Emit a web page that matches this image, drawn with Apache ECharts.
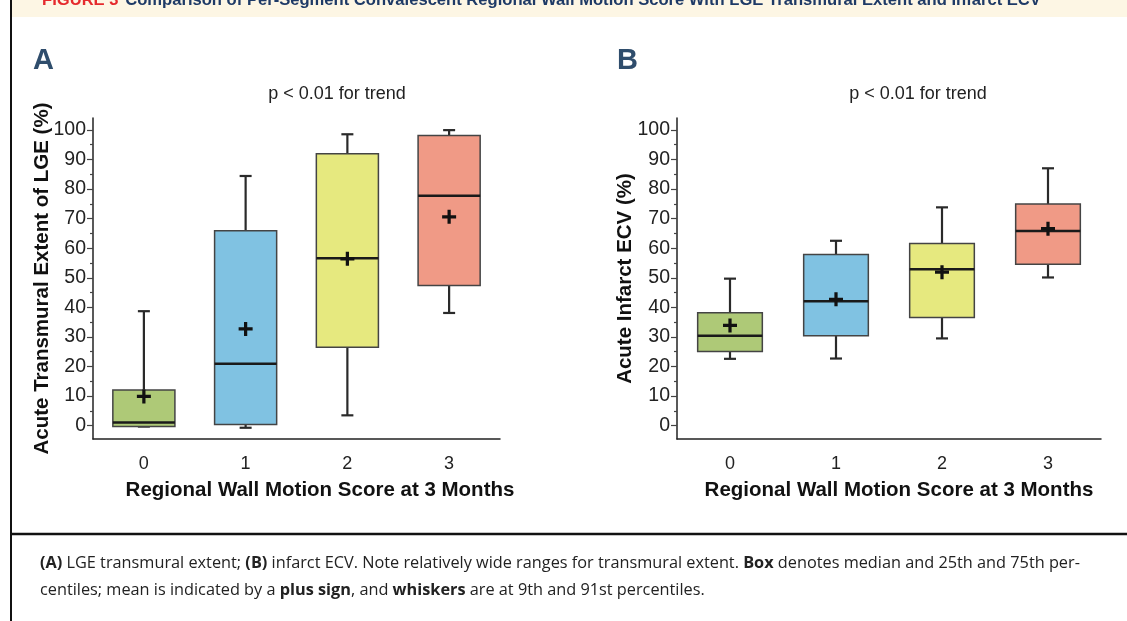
<!DOCTYPE html>
<html>
<head>
<meta charset="utf-8">
<script src="https://cdn.jsdelivr.net/npm/echarts@6/dist/echarts.min.js"></script>
<style>
  html, body { margin: 0; padding: 0; background: #fff; }
  #main { width: 1127px; height: 621px; }
</style>
</head>
<body>
<div id="main"></div>
<script>
// categories
const scores = ['0', '1', '2', '3']
const boxColors = ['#aec977', '#80c2e2', '#e6e97f', '#f09a86']

// A: LGE transmural extent (%)
const lgeLow = [-0.3, -0.7, 3.5, 38.1]
const lgeQ1 = [-0.3, 0.4, 26.5, 47.4]
const lgeMedian = [1.1, 20.9, 56.6, 77.7]
const lgeQ3 = [12.1, 65.9, 91.9, 98.1]
const lgeHigh = [38.7, 84.4, 98.5, 99.9]
const lgeMean = [9.9, 32.7, 56.4, 70.6]

// B: infarct ECV (%)
const ecvLow = [22.6, 22.7, 29.5, 50.1]
const ecvQ1 = [25.1, 30.4, 36.6, 54.6]
const ecvMedian = [30.4, 42.1, 52.9, 65.8]
const ecvQ3 = [38.2, 57.9, 61.6, 74.9]
const ecvHigh = [49.7, 62.5, 73.8, 87.0]
const ecvMean = [33.9, 42.7, 51.9, 66.6]

// tick labels
const majorTicks = [0, 10, 20, 30, 40, 50, 60, 70, 80, 90, 100]
const minorTicks = [5, 15, 25, 35, 45, 55, 65, 75, 85, 95]

const font = 'Liberation Sans, Arial, sans-serif'
const captionFont = 'Open Sans, Noto Sans, sans-serif'

function boxData (low, q1, med, q3, high) {
  return scores.map((s, i) => [i, low[i], q1[i], med[i], q3[i], high[i]])
}

function meanData (mean) {
  return scores.map((s, i) => [i, mean[i]])
}

function renderBox (params, api) {
  let i = api.value(0)
  let pLow = api.coord([i, api.value(1)])
  let pQ1 = api.coord([i, api.value(2)])
  let pMed = api.coord([i, api.value(3)])
  let pQ3 = api.coord([i, api.value(4)])
  let pHigh = api.coord([i, api.value(5)])
  let band = api.size([1, 0])[0]
  let half = band * 0.305
  let cap = 6
  let x = pMed[0]
  let whisker = { stroke: '#2a2a2a', lineWidth: 2.2 }
  return {
    type: 'group',
    children: [
      { type: 'line', shape: { x1: x, y1: pHigh[1], x2: x, y2: pQ3[1] }, style: whisker },
      { type: 'line', shape: { x1: x - cap, y1: pHigh[1], x2: x + cap, y2: pHigh[1] }, style: whisker },
      { type: 'line', shape: { x1: x, y1: pLow[1], x2: x, y2: pQ1[1] }, style: whisker },
      { type: 'line', shape: { x1: x - cap, y1: pLow[1], x2: x + cap, y2: pLow[1] }, style: whisker },
      {
        type: 'rect',
        shape: { x: x - half, y: pQ3[1], width: half * 2, height: pQ1[1] - pQ3[1] },
        style: { fill: boxColors[i], stroke: '#444', lineWidth: 1.5 }
      },
      { type: 'line', shape: { x1: x - half, y1: pMed[1], x2: x + half, y2: pMed[1] }, style: { stroke: '#1a1a1a', lineWidth: 2.5 } }
    ]
  }
}

const plus = 'path://M5,0H8V5H13V8H8V13H5V8H0V5H5Z'

function xAxis (gridIndex) {
  return {
    type: 'category',
    gridIndex: gridIndex,
    data: scores,
    axisLine: { onZero: false, lineStyle: { color: '#222', width: 1.5 } },
    axisTick: { alignWithLabel: true, length: 6, lineStyle: { color: '#555', width: 1.5 } },
    axisLabel: { fontSize: 18, color: '#222', margin: 16, fontFamily: font },
    splitLine: { show: false }
  }
}

function yAxis (gridIndex, name, gap) {
  return {
    type: 'value',
    gridIndex: gridIndex,
    min: -4.5,
    max: 104,
    name: name,
    nameLocation: 'middle',
    nameGap: gap,
    nameMoveOverlap: false,
    nameTextStyle: { fontSize: 20.5, fontWeight: 'bold', color: '#111', fontFamily: font },
    axisLine: { show: true, lineStyle: { color: '#222', width: 1.5 } },
    axisTick: { show: true, length: 6, customValues: majorTicks, lineStyle: { color: '#444', width: 1.2 } },
    axisLabel: { fontSize: 19.5, color: '#222', margin: 7, fontFamily: font, customValues: majorTicks },
    splitLine: { show: false }
  }
}

function minorAxis (gridIndex) {
  return {
    type: 'value',
    gridIndex: gridIndex,
    min: -4.5,
    max: 104,
    position: 'left',
    axisLine: { show: false },
    axisTick: { show: true, length: 3, customValues: minorTicks, lineStyle: { color: '#444', width: 1.2 } },
    axisLabel: { show: false },
    splitLine: { show: false }
  }
}

let myChart = echarts.init(document.getElementById('main'))
let option = {
  animation: false,
  backgroundColor: '#fff',
  title: [
    { text: 'A', left: 28, top: 41, textStyle: { fontSize: 29, fontWeight: 'bold', color: '#2f4d6c', fontFamily: font } },
    { text: 'B', left: 612, top: 41, textStyle: { fontSize: 29, fontWeight: 'bold', color: '#2f4d6c', fontFamily: font } },
    { text: 'p < 0.01 for trend', left: 332, top: 80, textAlign: 'center', textStyle: { fontSize: 18, fontWeight: 'normal', color: '#222', fontFamily: font } },
    { text: 'p < 0.01 for trend', left: 913, top: 80, textAlign: 'center', textStyle: { fontSize: 18, fontWeight: 'normal', color: '#222', fontFamily: font } }
  ],
  grid: [
    { left: 93, top: 118, width: 407, height: 321 },
    { left: 677, top: 118, width: 424, height: 321 }
  ],
  xAxis: [xAxis(0), xAxis(1)],
  yAxis: [
    yAxis(0, 'Acute Transmural Extent of LGE (%)', 40),
    yAxis(1, 'Acute Infarct ECV (%)', 41),
    minorAxis(0),
    minorAxis(1)
  ],
  series: [
    {
      type: 'custom',
      xAxisIndex: 0,
      yAxisIndex: 0,
      renderItem: renderBox,
      encode: { x: 0, y: [1, 2, 3, 4, 5] },
      data: boxData(lgeLow, lgeQ1, lgeMedian, lgeQ3, lgeHigh)
    },
    {
      type: 'custom',
      xAxisIndex: 1,
      yAxisIndex: 1,
      renderItem: renderBox,
      encode: { x: 0, y: [1, 2, 3, 4, 5] },
      data: boxData(ecvLow, ecvQ1, ecvMedian, ecvQ3, ecvHigh)
    },
    {
      type: 'scatter',
      xAxisIndex: 0,
      yAxisIndex: 0,
      symbol: plus,
      symbolSize: 14,
      itemStyle: { color: '#111', opacity: 1 },
      z: 5,
      data: meanData(lgeMean)
    },
    {
      type: 'scatter',
      xAxisIndex: 1,
      yAxisIndex: 1,
      symbol: plus,
      symbolSize: 14,
      itemStyle: { color: '#111', opacity: 1 },
      z: 5,
      data: meanData(ecvMean)
    }
  ],
  graphic: [
    // header band (cut off at the top)
    { type: 'rect', left: 10, top: 0, shape: { width: 1117, height: 17 }, style: { fill: '#fdf6e4' }, z: -1 },
    {
      type: 'text', x: 42, y: 0, z: 1,
      style: {
        text: '{r|FIGURE 3}  {b|Comparison of Per-Segment Convalescent Regional Wall Motion Score With LGE Transmural Extent and Infarct ECV}',
        verticalAlign: 'middle',
        rich: {
          r: { fontSize: 16.6, fontWeight: 'bold', fill: '#e52a2d', fontFamily: font },
          b: { fontSize: 16.6, fontWeight: 'bold', fill: '#1e3a66', fontFamily: font }
        }
      }
    },
    // x axis titles
    { type: 'text', x: 320, y: 490, style: { text: 'Regional Wall Motion Score at 3 Months', align: 'center', verticalAlign: 'middle', fontSize: 20.5, fontWeight: 'bold', fill: '#111', fontFamily: font } },
    { type: 'text', x: 899, y: 490, style: { text: 'Regional Wall Motion Score at 3 Months', align: 'center', verticalAlign: 'middle', fontSize: 20.5, fontWeight: 'bold', fill: '#111', fontFamily: font } },
    // frame lines
    { type: 'line', shape: { x1: 11, y1: 0, x2: 11, y2: 621 }, style: { stroke: '#111', lineWidth: 2 } },
    { type: 'line', shape: { x1: 10, y1: 534, x2: 1127, y2: 534 }, style: { stroke: '#111', lineWidth: 2.5 } },
    // caption
    {
      type: 'text', x: 40, y: 563,
      style: {
        text: '{b|(A)} LGE transmural extent; {b|(B)} infarct ECV. Note relatively wide ranges for transmural extent. {b|Box} denotes median and 25th and 75th per-',
        verticalAlign: 'middle', fontSize: 16.3, fill: '#222', fontFamily: captionFont,
        rich: { b: { fontSize: 16.3, fontWeight: 'bold', fill: '#222', fontFamily: captionFont } }
      }
    },
    {
      type: 'text', x: 40, y: 590,
      style: {
        text: 'centiles; mean is indicated by a {b|plus sign}, and {b|whiskers} are at 9th and 91st percentiles.',
        verticalAlign: 'middle', fontSize: 16.3, fill: '#222', fontFamily: captionFont,
        rich: { b: { fontSize: 16.3, fontWeight: 'bold', fill: '#222', fontFamily: captionFont } }
      }
    }
  ]
}
myChart.setOption(option)
</script>
</body>
</html>
